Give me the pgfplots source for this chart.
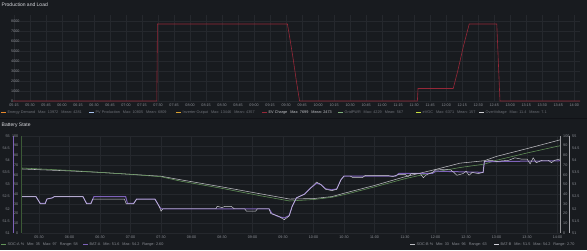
\documentclass[border=0pt]{standalone}
\usepackage{fontspec}
\setmainfont{Liberation Sans}
\usepackage{pgfplots}
\pgfplotsset{compat=1.18}
\definecolor{pagebg}{HTML}{111217}
\definecolor{panelbg}{HTML}{181B1F}
\definecolor{gridc}{HTML}{25282D}
\definecolor{tickc}{HTML}{8C8F96}
\definecolor{titlec}{HTML}{D8D9DE}
\definecolor{dimtext}{HTML}{6E7178}
\definecolor{brighttext}{HTML}{C8C9CE}
\definecolor{evred}{HTML}{962838}
\definecolor{socA}{HTML}{64955A}
\definecolor{socB}{HTML}{BDBDC2}
\definecolor{batA}{HTML}{7E62BA}
\definecolor{batB}{HTML}{D2D2DA}
\definecolor{cOrange}{HTML}{E8892C}
\definecolor{cBlue}{HTML}{A8C4F0}
\definecolor{cYellow}{HTML}{D8A030}
\definecolor{cGreen}{HTML}{7FB07A}
\definecolor{cLime}{HTML}{C8E040}
\definecolor{cWhite}{HTML}{D0D0D4}
\newcommand{\tickfont}{\fontsize{3.7}{4}\selectfont}
\newcommand{\legfont}{\fontsize{3.8}{4}\selectfont}
\newcommand{\lgd}[3]{\textcolor{#1}{\rule[0.3ex]{4.5pt}{0.9pt}}\hspace{2pt}\textcolor{#2}{#3}}
\begin{document}
\begin{tikzpicture}[x=1pt,y=1pt]
\fill[pagebg] (0,0) rectangle (587,250);
\useasboundingbox (0,0) rectangle (587,250);
\fill[panelbg] (0,132.5) rectangle (587,250);
\fill[panelbg] (0,0) rectangle (587,131);
\node[anchor=west, inner sep=0pt, font=\fontsize{5}{6}\selectfont, text=titlec] at (1.5,245) {Production and Load};
\node[anchor=west, inner sep=0pt, font=\fontsize{5}{6}\selectfont, text=titlec] at (1.5,124.5) {Battery State};

% ---------------- top panel ----------------
\begin{axis}[
  at={(13pt,149pt)}, anchor=south west, scale only axis,
  width=567pt, height=86pt,
  xmin=5.234, xmax=14.09, ymin=0, ymax=8600,
  axis line style={draw=none}, tick style={draw=none},
  xmajorgrids, ymajorgrids, grid style={gridc, line width=0.35pt},
  xtick={5.25,5.5,5.75,6,6.25,6.5,6.75,7,7.25,7.5,7.75,8,8.25,8.5,8.75,9,9.25,9.5,9.75,10,10.25,10.5,10.75,11,11.25,11.5,11.75,12,12.25,12.5,12.75,13,13.25,13.5,13.75,14},
  xticklabels={05:15,05:30,05:45,06:00,06:15,06:30,06:45,07:00,07:15,07:30,07:45,08:00,08:15,08:30,08:45,09:00,09:15,09:30,09:45,10:00,10:15,10:30,10:45,11:00,11:15,11:30,11:45,12:00,12:15,12:30,12:45,13:00,13:15,13:30,13:45,14:00},
  ytick={0,1000,2000,3000,4000,5000,6000,7000,8000},
  scaled y ticks=false,
  /pgf/number format/1000 sep={}, /pgf/number format/assume math mode=true,
  ticklabel style={font=\tickfont, text=tickc, inner sep=0pt},
  xticklabel style={anchor=north, yshift=-3.2pt},
  yticklabel style={anchor=west, xshift=-2pt},
  clip=false,
]
\addplot[evred, line width=0.6pt] coordinates {
(5.234,0) (7.48,0) (7.49,7700) (9.52,7700) (9.56,6200) (9.61,4200) (9.66,2000) (9.71,0)
(11.55,0) (11.56,1250) (12.11,1250) (12.18,3000) (12.27,5500) (12.36,7700) (12.79,7700)
(12.84,0) (14.09,0)};
\end{axis}

% legend top
\node[anchor=west, inner sep=0pt, font=\legfont] at (1,137.5) {\lgd{cOrange}{dimtext}{Energy Demand\hspace{3pt}Max: 13972\hspace{3pt}Mean: 4281}};
\node[anchor=west, inner sep=0pt, font=\legfont] at (89,137.5) {\lgd{cBlue}{dimtext}{PV Production\hspace{3pt}Max: 10805\hspace{3pt}Mean: 6809}};
\node[anchor=west, inner sep=0pt, font=\legfont] at (176,137.5) {\lgd{cYellow}{dimtext}{Inverter Output\hspace{3pt}Max: 13446\hspace{3pt}Mean: 4357}};
\node[anchor=west, inner sep=0pt, font=\legfont] at (262,137.5) {\lgd{evred}{brighttext}{EV Charge\hspace{3pt}Max: 7699\hspace{3pt}Mean: 2473}};
\node[anchor=west, inner sep=0pt, font=\legfont] at (338,137.5) {\lgd{cGreen}{dimtext}{GridPWR\hspace{3pt}Max: 4229\hspace{3pt}Mean: 567}};
\node[anchor=west, inner sep=0pt, font=\legfont] at (416,137.5) {\lgd{cLime}{dimtext}{eVGC\hspace{3pt}Max: 6371\hspace{3pt}Mean: 157}};
\node[anchor=west, inner sep=0pt, font=\legfont] at (479,137.5) {\lgd{cWhite}{dimtext}{OverVoltage\hspace{3pt}Max: 11.4\hspace{3pt}Mean: 7.1}};

% ---------------- bottom panel ----------------
\begin{axis}[
  at={(22pt,17pt)}, anchor=south west, scale only axis,
  width=538pt, height=97pt,
  xmin=5.221, xmax=14.04, ymin=0, ymax=100,
  axis line style={draw=none}, tick style={draw=none},
  xmajorgrids, ymajorgrids, grid style={gridc, line width=0.35pt},
  xtick={5.5,6,6.5,7,7.5,8,8.5,9,9.5,10,10.5,11,11.5,12,12.5,13,13.5,14},
  xticklabels={05:30,06:00,06:30,07:00,07:30,08:00,08:30,09:00,09:30,10:00,10:30,11:00,11:30,12:00,12:30,13:00,13:30,14:00},
  ytick={0,10,20,30,40,50,60,70,80,90,100},
  /pgf/number format/assume math mode=true,
  ticklabel style={font=\tickfont, text=tickc, inner sep=0pt},
  xticklabel style={anchor=north, yshift=-3.2pt},
  yticklabel style={anchor=east, xshift=-3.5pt},
  clip=false,
]
\addplot[socB, line width=0.55pt] coordinates {
(5.221,66) (6.0,64) (6.5,62.5) (7.0,60.5) (7.5,58.5) (7.81,55) (8.5,47.5) (9.12,40.5) (9.61,35)
(10.0,35.5) (10.3,37.5) (10.5,41) (11.0,49) (11.5,58) (12.0,65.5) (12.4,72) (12.8,74.5)
(13.0,79) (13.5,87) (14.04,96)};
\addplot[socA, line width=0.55pt] coordinates {
(5.221,67) (6.0,64.5) (6.5,62.5) (7.0,60.5) (7.5,58) (7.81,53.6) (8.5,46) (9.12,38.5) (9.61,33)
(10.0,34.5) (10.3,36.8) (10.5,39.5) (11.0,47.5) (11.5,56) (12.0,63) (12.4,67.5) (12.8,71)
(13.0,75) (13.5,82.5) (14.04,90)};
\end{axis}

\begin{axis}[
  at={(22pt,17pt)}, anchor=south west, scale only axis,
  width=538pt, height=97pt,
  xmin=5.221, xmax=14.04, ymin=51, ymax=55,
  axis line style={draw=none}, tick style={draw=none},
  xtick=\empty,
  ytick={51,51.5,52,52.5,53,53.5,54,54.5,55},
  /pgf/number format/assume math mode=true,
  ticklabel style={font=\tickfont, text=tickc, inner sep=0pt},
  yticklabel style={anchor=east, xshift=-12pt},
  clip=false,
]
\addplot[batA, line width=1.0pt] coordinates {
(5.221,52.5) (5.45,52.5) (5.5,52.3) (5.52,52.22) (5.6,52.22) (5.63,52.4) (5.72,52.45) (5.75,52.5)
(6.22,52.5) (6.28,52.22) (6.35,52.22) (6.4,52.5) (6.92,52.5) (6.95,52.22) (7.05,52.22) (7.1,52.4)
(7.4,52.4) (7.47,52.1) (7.5,52.0) (9.27,52.0) (9.32,51.8) (9.42,51.68) (9.52,51.62) (9.6,51.72)
(9.65,52.1) (9.72,52.45) (9.85,52.6) (9.95,52.85) (10.05,53.05) (10.12,53.0) (10.2,52.82) (10.3,52.78)
(10.38,52.82) (10.45,53.2) (10.5,53.35) (11.35,53.35) (11.4,53.46) (11.95,53.46) (12.0,53.55)
(12.78,53.5) (12.8,53.94) (14.04,53.98)};
\addplot[batB, line width=0.45pt] coordinates {
(5.221,52.5) (5.45,52.5) (5.5,52.3) (5.52,52.2) (5.6,52.2) (5.63,52.4) (5.72,52.45) (5.75,52.5)
(6.22,52.5) (6.28,52.2) (6.35,52.2) (6.38,52.4) (6.9,52.4) (6.93,52.2) (7.05,52.2) (7.1,52.4)
(7.4,52.4) (7.47,52.1) (7.5,51.9) (7.53,52.0) (8.4,52.0) (8.42,52.1) (8.5,52.05) (8.55,52.1)
(8.65,52.1) (8.7,52.0) (8.87,52.0) (8.9,51.9) (9.05,51.9) (9.08,52.0) (9.27,52.0) (9.3,51.8)
(9.42,51.7) (9.52,51.55) (9.6,51.7) (9.65,52.1) (9.72,52.45) (9.85,52.6) (9.95,52.85) (10.05,53.1)
(10.12,53.0) (10.2,52.8) (10.3,52.75) (10.38,52.8) (10.45,53.2) (10.5,53.35) (10.6,53.35)
(10.65,53.28) (10.8,53.28) (10.85,53.38) (11.2,53.38) (11.3,53.33) (11.4,53.42) (11.5,53.42)
(11.55,53.33) (11.6,53.45) (11.75,53.45) (11.8,53.28) (11.85,53.4) (11.95,53.5) (12.0,53.6)
(12.15,53.62) (12.25,53.6) (12.3,53.5) (12.35,53.38) (12.45,53.45) (12.5,53.55) (12.55,53.38)
(12.6,53.5) (12.7,53.45) (12.78,53.5) (12.8,53.95) (12.9,54.0) (13.0,53.95) (13.2,54.0)
(13.3,54.1) (13.4,54.05) (13.5,54.05) (13.55,53.85) (13.6,54.1) (13.65,53.9) (13.75,54.0)
(13.85,54.0) (13.9,53.9) (13.95,54.0) (14.04,54.05)};
\end{axis}

\begin{axis}[
  at={(22pt,17pt)}, anchor=south west, scale only axis,
  width=538pt, height=97pt,
  xmin=5.221, xmax=14.04, ymin=0, ymax=100,
  axis line style={draw=none}, tick style={draw=none},
  xtick=\empty, yticklabel pos=right,
  ytick={0,10,20,30,40,50,60,70,80,90,100},
  /pgf/number format/assume math mode=true,
  ticklabel style={font=\tickfont, text=tickc, inner sep=0pt},
  yticklabel style={anchor=west, xshift=3pt},
]
\end{axis}

\begin{axis}[
  at={(22pt,17pt)}, anchor=south west, scale only axis,
  width=538pt, height=97pt,
  xmin=5.221, xmax=14.04, ymin=51, ymax=55,
  axis line style={draw=none}, tick style={draw=none},
  xtick=\empty, yticklabel pos=right,
  ytick={51,51.5,52,52.5,53,53.5,54,54.5,55},
  /pgf/number format/assume math mode=true,
  ticklabel style={font=\tickfont, text=tickc, inner sep=0pt},
  yticklabel style={anchor=west, xshift=12pt},
]
\end{axis}

\draw[batA, line width=0.5pt] (13,17) -- (13,114);
\draw[socA!60!black, line width=0.4pt] (21.5,17) -- (21.5,114);
\draw[socB!80!black, line width=0.4pt] (560.5,17) -- (560.5,114);
\draw[batB!80!black, line width=0.4pt] (569.5,17) -- (569.5,114);

% legend bottom
\node[anchor=west, inner sep=0pt, font=\legfont] at (1,5) {\lgd{socA}{tickc}{SOC-A \%\hspace{3pt}Min: 35\hspace{3pt}Max: 97\hspace{3pt}Range: 58}};
\node[anchor=west, inner sep=0pt, font=\legfont] at (83,5) {\lgd{batA}{tickc}{BAT-A\hspace{3pt}Min: 51.6\hspace{3pt}Max: 54.2\hspace{3pt}Range: 2.60}};
\node[anchor=west, inner sep=0pt, font=\legfont] at (410,5) {\lgd{socB}{tickc}{SOC-B \%\hspace{3pt}Min: 33\hspace{3pt}Max: 96\hspace{3pt}Range: 63}};
\node[anchor=west, inner sep=0pt, font=\legfont] at (494,5) {\lgd{batB}{tickc}{BAT-B\hspace{3pt}Min: 51.5\hspace{3pt}Max: 54.2\hspace{3pt}Range: 2.70}};
\end{tikzpicture}
\end{document}
